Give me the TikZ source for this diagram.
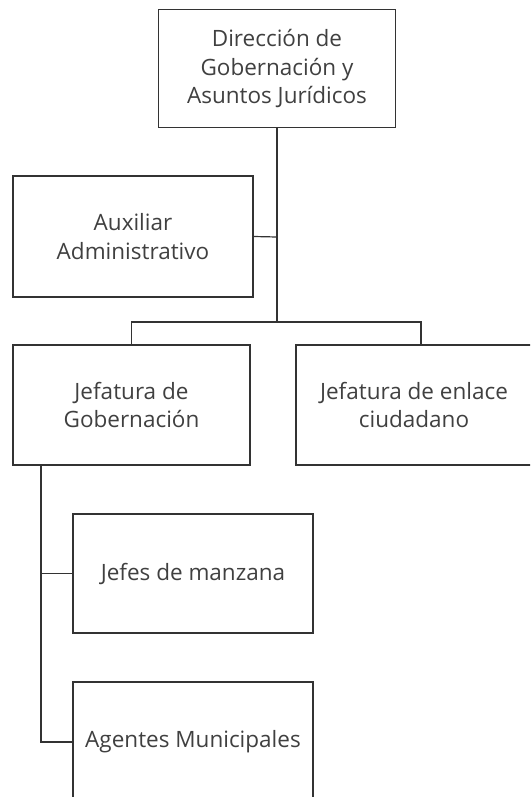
\documentclass[tikz,border=0pt]{standalone}
\usepackage{fontspec}
\setmainfont{Open Sans}
\begin{document}
\begin{tikzpicture}[x=1pt,y=-1pt,
  box/.style={draw=black!80, line width=1.2pt, rectangle, align=center,
    inner sep=0pt, text=black!75, font=\fontsize{22.5}{28.5}\selectfont},
  link/.style={draw=black!80, line width=1.2pt}]
\useasboundingbox (0,0) rectangle (530,797);
\clip (0,0) rectangle (530,797);
\node[box, minimum width=237pt, minimum height=118pt] (top) at (277,68.5) {Dirección de\\Gobernación y\\Asuntos Jurídicos};
\node[box, minimum width=240pt, minimum height=121pt] (aux) at (133,236.5) {Auxiliar\\Administrativo};
\node[box, minimum width=237pt, minimum height=120pt] (gob) at (131.5,405) {Jefatura de\\Gobernación};
\node[box, minimum width=236pt, minimum height=120pt] (enl) at (414,405) {Jefatura de enlace\\ciudadano};
\node[box, minimum width=240pt, minimum height=119pt] (jef) at (193,573.5) {Jefes de manzana};
\node[box, minimum width=240pt, minimum height=120pt] (age) at (193,742) {Agentes Municipales};
\coordinate (bar) at (277,322);
\coordinate (auxj) at (277,237);
\coordinate (barl) at (131.5,322);
\coordinate (barr) at (421,322);
\coordinate (gobt) at (41,465);
\draw[link] (top.south) -- (bar);
\draw[link] (aux.east) -- (auxj);
\draw[link] (gob.north) -- (barl) -- (barr) -- (barr |- enl.north);
\draw[link] (gobt) |- (age.west);
\draw[link] (gobt |- jef.west) -- (jef.west);
\end{tikzpicture}
\end{document}
